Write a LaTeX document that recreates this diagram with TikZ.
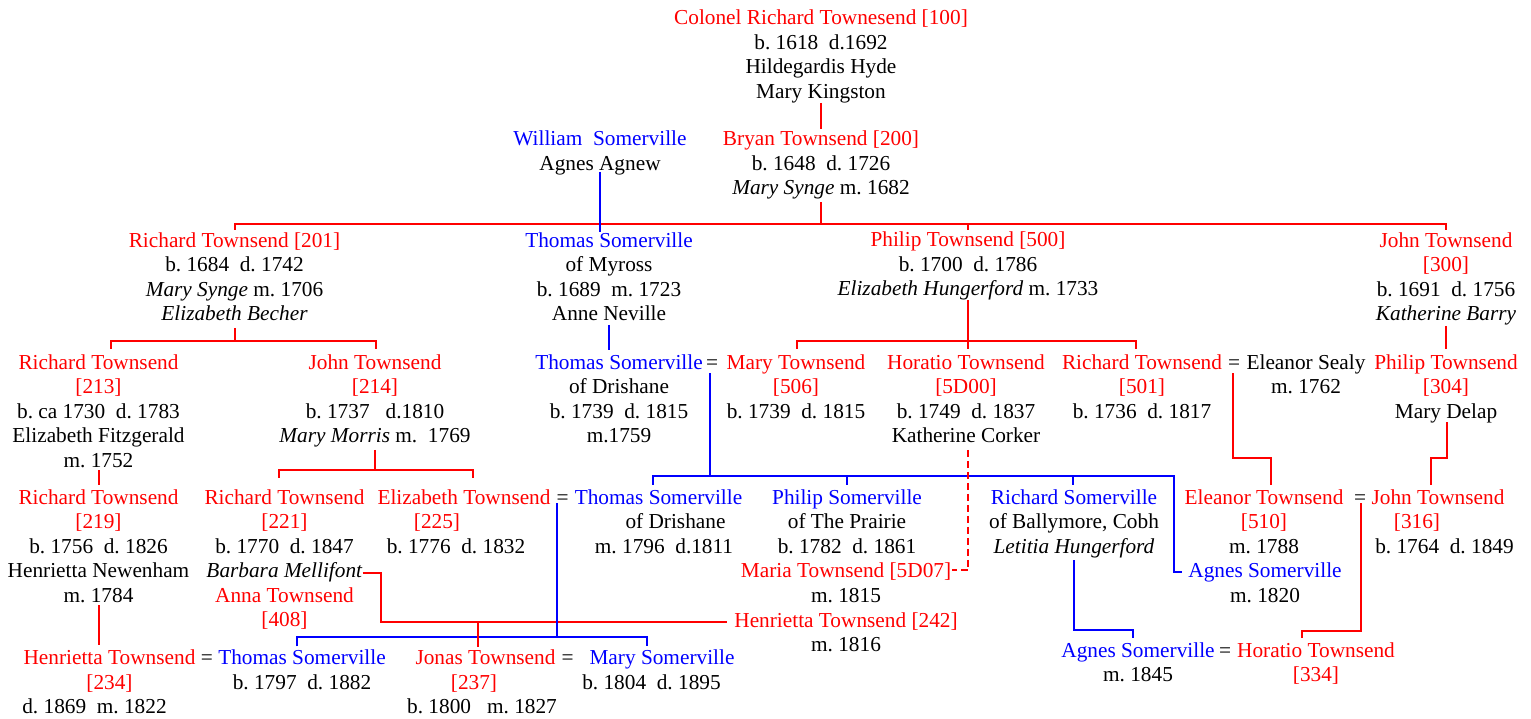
\documentclass[tikz,border=0pt]{standalone}
\usepackage{fontspec}
\setmainfont{Liberation Serif}
\usetikzlibrary{calc}
\definecolor{tred}{RGB}{255,0,0}
\definecolor{tblue}{RGB}{0,0,255}
\newcommand\redtx[1]{\textcolor{tred}{#1}}
\newcommand\bluetx[1]{\textcolor{tblue}{#1}}

\begin{document}
\begin{tikzpicture}[x=1pt,y=-1pt,
  txt/.style={anchor=north, yshift=17.15pt, inner sep=0pt, outer sep=0pt,
    align=center, font=\fontsize{21.3pt}{24.5pt}\selectfont\frenchspacing,
    execute at end node=\strut},
  R/.style={draw=tred, line width=2pt},
  B/.style={draw=tblue, line width=2pt},
  dsh/.style={dash pattern=on 7pt off 4pt}]

\fill[white] (0,0) rectangle (1531,719);
\useasboundingbox (0,0) rectangle (1531,719);

% ---- generation I and II
\node[txt] (n100) at (821,25) {\strut\redtx{Colonel Richard Townesend [100]}\\b. 1618~~d.1692\\Hildegardis Hyde\\Mary Kingston};
\node[txt] (nWS) at (600,146) {\strut\bluetx{William~~Somerville}\\Agnes Agnew};
\node[txt] (n200) at (821,146) {\strut\redtx{Bryan Townsend [200]}\\b. 1648~~d. 1726\\\textit{Mary Synge} m. 1682};

% ---- generation III
\node[txt] (n201) at (234.5,247) {\strut\redtx{Richard Townsend [201]}\\b. 1684~~d. 1742\\\textit{Mary Synge} m. 1706\\\textit{Elizabeth Becher}};
\node[txt] (nTSM) at (609,247) {\strut\bluetx{Thomas Somerville}\\of Myross\\b. 1689~~m. 1723\\Anne Neville};
\node[txt] (n500) at (968,247) {\strut\redtx{Philip Townsend [500]}\\b. 1700~~d. 1786\\\textit{Elizabeth Hungerford} m. 1733};
\node[txt] (n300) at (1446,247) {\strut\redtx{John Townsend}\\\redtx{[300]}\\b. 1691~~d. 1756\\\textit{Katherine Barry}};

% ---- generation IV
\node[txt] (n213) at (98.5,369) {\strut\redtx{Richard Townsend}\\\redtx{[213]}\\b. ca 1730~~d. 1783\\Elizabeth Fitzgerald\\m. 1752};
\node[txt] (n214) at (375,369) {\strut\redtx{John Townsend}\\\redtx{[214]}\\b. 1737~~~d.1810\\\textit{Mary Morris} m.~~1769};
\node[txt] (nTSD) at (619,369) {\strut\bluetx{Thomas Somerville}\\of Drishane\\b. 1739~~d. 1815\\m.1759};
\node[txt] (eq1) at (712,369) {\strut=};
\node[txt] (n506) at (796,369) {\strut\redtx{Mary Townsend}\\\redtx{[506]}\\b. 1739~~d. 1815};
\node[txt] (n5D00) at (966,369) {\strut\redtx{Horatio Townsend}\\\redtx{[5D00]}\\b. 1749~~d. 1837\\Katherine Corker};
\node[txt] (n501) at (1142,369) {\strut\redtx{Richard Townsend}\\\redtx{[501]}\\b. 1736~~d. 1817};
\node[txt] (eq2) at (1234,369) {\strut=};
\node[txt] (nES) at (1306,369) {\strut Eleanor Sealy\\m. 1762};
\node[txt] (n304) at (1446,369) {\strut\redtx{Philip Townsend}\\\redtx{[304]}\\Mary Delap};

% ---- generation V
\node[txt] (n219) at (98.5,504) {\strut\redtx{Richard Townsend}\\\redtx{[219]}\\b. 1756~~d. 1826\\Henrietta Newenham\\m. 1784};
\node[txt] (n221) at (284.5,504) {\strut\redtx{Richard Townsend}\\\redtx{[221]}\\b. 1770~~d. 1847};
\node[txt] (nBM) at (284.5,577.5) {\strut\textit{Barbara Mellifont}};
\node[txt] (n408) at (284.5,602) {\strut\redtx{Anna Townsend}\\\redtx{[408]}};
\node[txt] (n225) at (464,504) {\strut\redtx{Elizabeth Townsend}};
\node[txt] (n225id) at (437,528.5) {\strut\redtx{[225]}};
\node[txt] (n225d) at (456,553) {\strut b. 1776~~d. 1832};
\node[txt] (eq3) at (562.5,504) {\strut=};
\node[txt] (nTS5) at (658.5,504) {\strut\bluetx{Thomas Somerville}};
\node[txt] (nTS5a) at (675.5,528.5) {\strut of Drishane};
\node[txt] (nTS5b) at (664,553) {\strut m. 1796~~d.1811};
\node[txt] (nPS) at (847,504) {\strut\bluetx{Philip Somerville}\\of The Prairie\\b. 1782~~d. 1861};
\node[txt] (nMT) at (846,577.5) {\strut\redtx{Maria Townsend [5D07]}\\m. 1815};
\node[txt] (nHT242) at (846,627) {\strut\redtx{Henrietta Townsend [242]}\\m. 1816};
\node[txt] (nRS) at (1074,504) {\strut\bluetx{Richard Somerville}\\of Ballymore, Cobh\\\textit{Letitia Hungerford}};
\node[txt] (nAS1) at (1265,577.5) {\strut\bluetx{Agnes Somerville}\\m. 1820};
\node[txt] (nET) at (1264,504) {\strut\redtx{Eleanor Townsend}\\\redtx{[510]}\\m. 1788};
\node[txt] (eq4) at (1360,504) {\strut=};
\node[txt] (nJT316) at (1438,504) {\strut\redtx{John Townsend}};
\node[txt] (nJT316id) at (1417,528.5) {\strut\redtx{[316]}};
\node[txt] (nJT316d) at (1444.5,553) {\strut b. 1764~~d. 1849};

% ---- generation VI
\node[txt] (n234) at (109.5,664.5) {\strut\redtx{Henrietta Townsend}\\\redtx{[234]}};
\node[txt] (n234d) at (94.5,713.5) {\strut d. 1869~~m. 1822};
\node[txt] (eq5) at (207,664.5) {\strut=};
\node[txt] (nTS6) at (302,664.5) {\strut\bluetx{Thomas Somerville}\\b. 1797~~d. 1882};
\node[txt] (nJT) at (485.5,664.5) {\strut\redtx{Jonas Townsend}};
\node[txt] (nJTid) at (474,689) {\strut\redtx{[237]}};
\node[txt] (nJTd) at (482,713.5) {\strut b. 1800~~~m. 1827};
\node[txt] (eq6) at (567.5,664.5) {\strut=};
\node[txt] (nMS) at (662,664.5) {\strut\bluetx{Mary Somerville}};
\node[txt] (nMSd) at (651.5,689) {\strut b. 1804~~d. 1895};
\node[txt] (nAS2) at (1138,657) {\strut\bluetx{Agnes Somerville}\\m. 1845};
\node[txt] (eq7) at (1225,657) {\strut=};
\node[txt] (nHT334) at (1316,657) {\strut\redtx{Horatio Townsend}\\\redtx{[334]}};

% ---- red (Townsend) descent lines
\draw[R] ($(n100.south)+(0,-3)$) -- (n100.south |- n200.north);

\coordinate (bar1) at ($(n200.south)+(0,22)$);
\draw[R] (n200.south) -- (bar1);
\draw[R] (n201.north) -- (n201.north |- bar1) -- (n300.north |- bar1) -- (n300.north);
\draw[R] (n500.north) -- (n500.north |- bar1);

\coordinate (bar2) at ($(n201.south)+(0,13)$);
\coordinate (t213) at ($(n213.north)+(12.5,-3)$);
\coordinate (t214) at ($(n214.north)+(0.5,-3)$);
\draw[R] (n201.south) -- (bar2);
\draw[R] (t213) -- (t213 |- bar2) -- (t214 |- bar2) -- (t214);

\coordinate (bar3) at ($(n500.south)+(0,38)$);
\coordinate (t506) at ($(n506.north)+(1,-3)$);
\coordinate (t501) at ($(n501.north)+(-6,-3)$);
\draw[R] ($(n500.south)+(0,-3)$) -- (n500.south |- t506);
\draw[R] (t506) -- (t506 |- bar3) -- (t501 |- bar3) -- (t501);

\draw[R] ($(n300.south)+(0,-2)$) -- ($(n300.south |- n304.north)+(0,-3)$);

\draw[R] ($(n213.south)+(0,-4)$) -- ($(n213.south |- n219.north)+(0,-2)$);

\coordinate (bar4) at ($(n214.south)+(0,20)$);
\coordinate (t221) at ($(n221.north)+(-5.5,-9)$);
\coordinate (t225) at ($(n225.north)+(9,-9)$);
\draw[R] (n214.south) -- (bar4);
\draw[R] (t221) -- (t221 |- bar4) -- (t225 |- bar4) -- (t225);

\coordinate (s2) at ($(eq2.south)+(-1,-3)$);
\coordinate (tET) at ($(nET.north)+(7,-2)$);
\draw[R] (s2) |- ($(tET)+(0,-27)$) -- (tET);

\coordinate (tJT316) at ($(nJT316.north)+(-7,-2)$);
\draw[R] ($(n304.south)+(1,-3)$) |- ($(tJT316)+(0,-27)$) -- (tJT316);

\draw[R] ($(n219.south)+(0,-4)$) -- ($(n219.south |- n234.north)+(0,-2)$);

\coordinate (bm1) at ($(nBM.east)+(18,0)$);
\coordinate (h242) at ($(nHT242.north west)+(-7,12)$);
\draw[R] (nBM.east) -- (bm1) |- (h242);

\coordinate (s4) at ($(eq4.south)+(1,-8)$);
\coordinate (tHT334) at ($(nHT334.north)+(-14,-2)$);
\draw[R] (s4) |- ($(tHT334)+(0,-7)$) -- (tHT334);

% ---- blue (Somerville) descent lines
\draw[B] ($(nWS.south)+(0,-6)$) -- ($(nWS.south |- nTSM.north)+(0,2)$);
\draw[B] ($(nTSM.south)+(0,-3)$) -- ($(nTSM.south |- nTSD.north)+(0,-2)$);

\coordinate (s1) at ($(eq1.south)+(-2,-3)$);
\coordinate (bar5) at ($(eq1.south)+(-2,100)$);
\coordinate (tTS5) at ($(nTS5.north)+(-5.5,-2)$);
\coordinate (tPS) at ($(nPS.north)+(0,-2)$);
\coordinate (tRS) at ($(nRS.north)+(-1,-2)$);
\coordinate (cAS1) at ($(nAS1.north west)+(-14,12)$);
\coordinate (eAS1) at ($(nAS1.north west)+(-6,12)$);
\draw[B] (s1) -- (bar5);
\draw[B] (tTS5) -- (tTS5 |- bar5) -- (cAS1 |- bar5) -- (cAS1) -- (eAS1);
\draw[B] (tPS) -- (tPS |- bar5);
\draw[B] (tRS) -- (tRS |- bar5);

\coordinate (s3) at ($(eq3.south)+(-5.5,-8)$);
\coordinate (bar6) at ($(eq3.south)+(-5.5,126)$);
\coordinate (tTS6) at ($(nTS6.north)+(-5,-1)$);
\coordinate (tMS) at ($(nMS.north)+(-15,-1)$);
\draw[B] (s3) -- (bar6);
\draw[B] (tTS6) -- (tTS6 |- bar6) -- (tMS |- bar6) -- (tMS);

\coordinate (tAS2) at ($(nAS2.north)+(-5,-2)$);
\draw[B] (nRS.south) |- ($(tAS2)+(0,-8)$) -- (tAS2);

% ---- red lines drawn over the blue ones
\coordinate (tJT) at ($(nJT.north)+(-7.5,0)$);
\draw[R] (tJT |- h242) -- (tJT);
\draw[R,dsh] ($(n5D00.south)+(2,0)$) |- ($(nMT.north east)+(1,10)$);

\end{tikzpicture}
\end{document}
